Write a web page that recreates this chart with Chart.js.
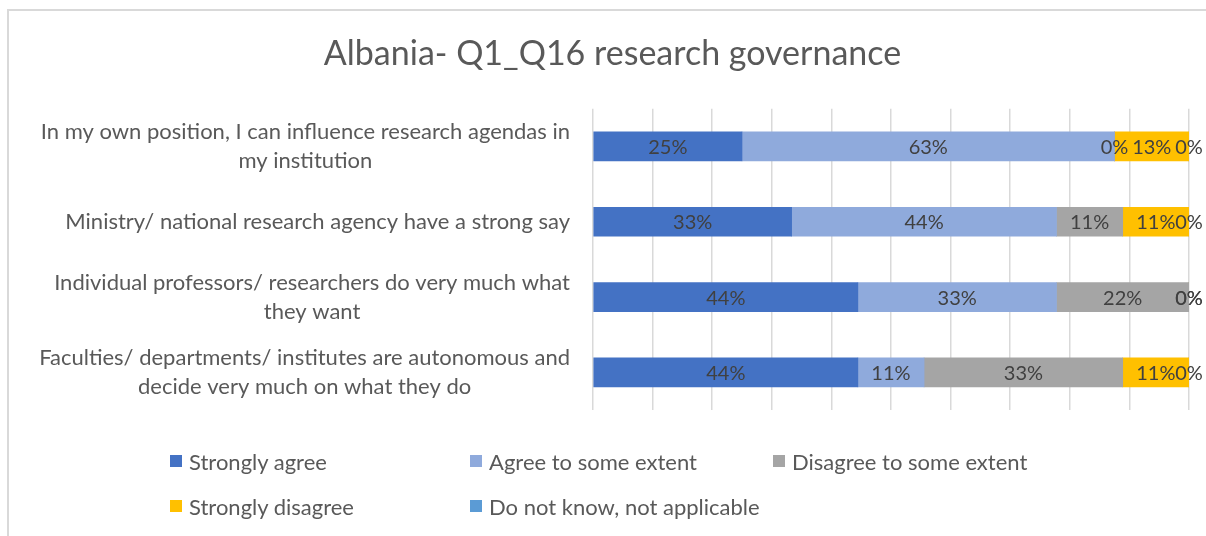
<!DOCTYPE html>
<html>
<head>
<meta charset="utf-8">
<script src="https://cdn.jsdelivr.net/npm/chart.js@4"></script>
<style>
  html, body { margin: 0; padding: 0; background: #fff; }
  #wrap { position: relative; width: 1206px; height: 536px; overflow: hidden; }
  #frame { position: absolute; left: 7px; top: 9px; width: 1400px; height: 800px;
           border-left: 2px solid #D9D9D9; border-top: 2px solid #D9D9D9; }
  #c { position: absolute; left: 0; top: 0; }
  .leg { position: absolute; font: 22px Lato, sans-serif; color: #595959; white-space: nowrap;
         display: flex; align-items: center; }
  .leg i { display: inline-block; width: 12px; height: 12px; margin-right: 7px; }
</style>
</head>
<body>
<div id="wrap">
  <div id="frame"></div>
  <canvas id="c" width="1206" height="536"></canvas>
  <div id="legend"></div>
</div>
<script>
const categories = [
  ["In my own position, I can influence research agendas in", "my institution"],
  ["Ministry/ national research agency have a strong say"],
  ["Individual professors/ researchers do very much what", "they want"],
  ["Faculties/ departments/ institutes are autonomous and", "decide very much on what they do"]
];
const seriesNames = ["Strongly agree", "Agree to some extent", "Disagree to some extent", "Strongly disagree", "Do not know, not applicable"];
const seriesColors = ["#4472C4", "#8FAADC", "#A5A5A5", "#FFC000", "#5B9BD5"];
const stronglyAgree = [25, 33.33, 44.44, 44.44];
const agreeSome = [62.5, 44.44, 33.33, 11.11];
const disagreeSome = [0, 11.11, 22.22, 33.33];
const stronglyDisagree = [12.5, 11.11, 0, 11.11];
const doNotKnow = [0, 0, 0, 0];
const seriesValues = [stronglyAgree, agreeSome, disagreeSome, stronglyDisagree, doNotKnow];

const FONT = "Lato, sans-serif";

// value labels in the middle of each segment
const barLabels = {
  id: "barLabels",
  afterDatasetsDraw(chart) {
    const ctx = chart.ctx;
    ctx.save();
    ctx.font = "20px " + FONT;
    ctx.fillStyle = "#404040";
    ctx.textAlign = "center";
    ctx.textBaseline = "middle";
    chart.data.datasets.forEach((ds, i) => {
      chart.getDatasetMeta(i).data.forEach((bar, j) => {
        const x = (bar.x + bar.base) / 2;
        ctx.fillText(Math.round(ds.data[j]) + "%", x, bar.y + 1);
      });
    });
    ctx.restore();
  }
};

// category labels: block right-aligned, lines centered inside the block
const catLabels = {
  id: "catLabels",
  afterDraw(chart) {
    const ctx = chart.ctx;
    const y = chart.scales.y;
    const right = chart.chartArea.left - 23;
    const lh = 29;
    ctx.save();
    ctx.font = "22px " + FONT;
    ctx.fillStyle = "#595959";
    ctx.textAlign = "center";
    ctx.textBaseline = "middle";
    categories.forEach((lines, i) => {
      const w = Math.max(...lines.map(l => ctx.measureText(l).width));
      const cy = y.getPixelForValue(i);
      const y0 = cy - (lines.length - 1) * lh / 2;
      lines.forEach((l, k) => ctx.fillText(l, right - w / 2, y0 + k * lh));
    });
    ctx.restore();
  }
};

new Chart(document.getElementById("c"), {
  type: "bar",
  data: {
    labels: categories,
    datasets: seriesNames.map((name, i) => ({
      label: name,
      data: seriesValues[i],
      backgroundColor: seriesColors[i],
      barThickness: 29
    }))
  },
  options: {
    indexAxis: "y",
    responsive: false,
    animation: false,
    layout: { padding: { left: 36, right: 17, top: 0, bottom: 126 } },
    plugins: {
      legend: { display: false },
      tooltip: { enabled: false },
      title: {
        display: true,
        text: "Albania- Q1_Q16 research governance",
        color: "#595959",
        font: { family: FONT, size: 34, weight: "normal" },
        padding: { top: 34, bottom: 34 },
        align: "center"
      }
    },
    scales: {
      x: {
        stacked: true,
        min: 0,
        max: 100,
        ticks: { display: false, stepSize: 10 },
        grid: { color: "#D9D9D9", lineWidth: 1.5, drawTicks: false },
        border: { display: false }
      },
      y: {
        stacked: true,
        ticks: { color: "rgba(0,0,0,0)", font: { family: FONT, size: 20 } },
        grid: { display: false },
        border: { display: false },
        afterFit(scale) { scale.width = 557; }
      }
    }
  },
  plugins: [barLabels, catLabels]
});

// legend in Excel-like columns
const legPos = [[170, 461], [470, 461], [773, 461], [170, 506], [470, 506]];
const legend = document.getElementById("legend");
seriesNames.forEach((name, i) => {
  const d = document.createElement("div");
  d.className = "leg";
  d.style.left = legPos[i][0] + "px";
  d.style.top = (legPos[i][1] - 13) + "px";
  d.style.height = "26px";
  d.innerHTML = '<i style="background:' + seriesColors[i] + '"></i>' + name;
  legend.appendChild(d);
});
</script>
</body>
</html>
